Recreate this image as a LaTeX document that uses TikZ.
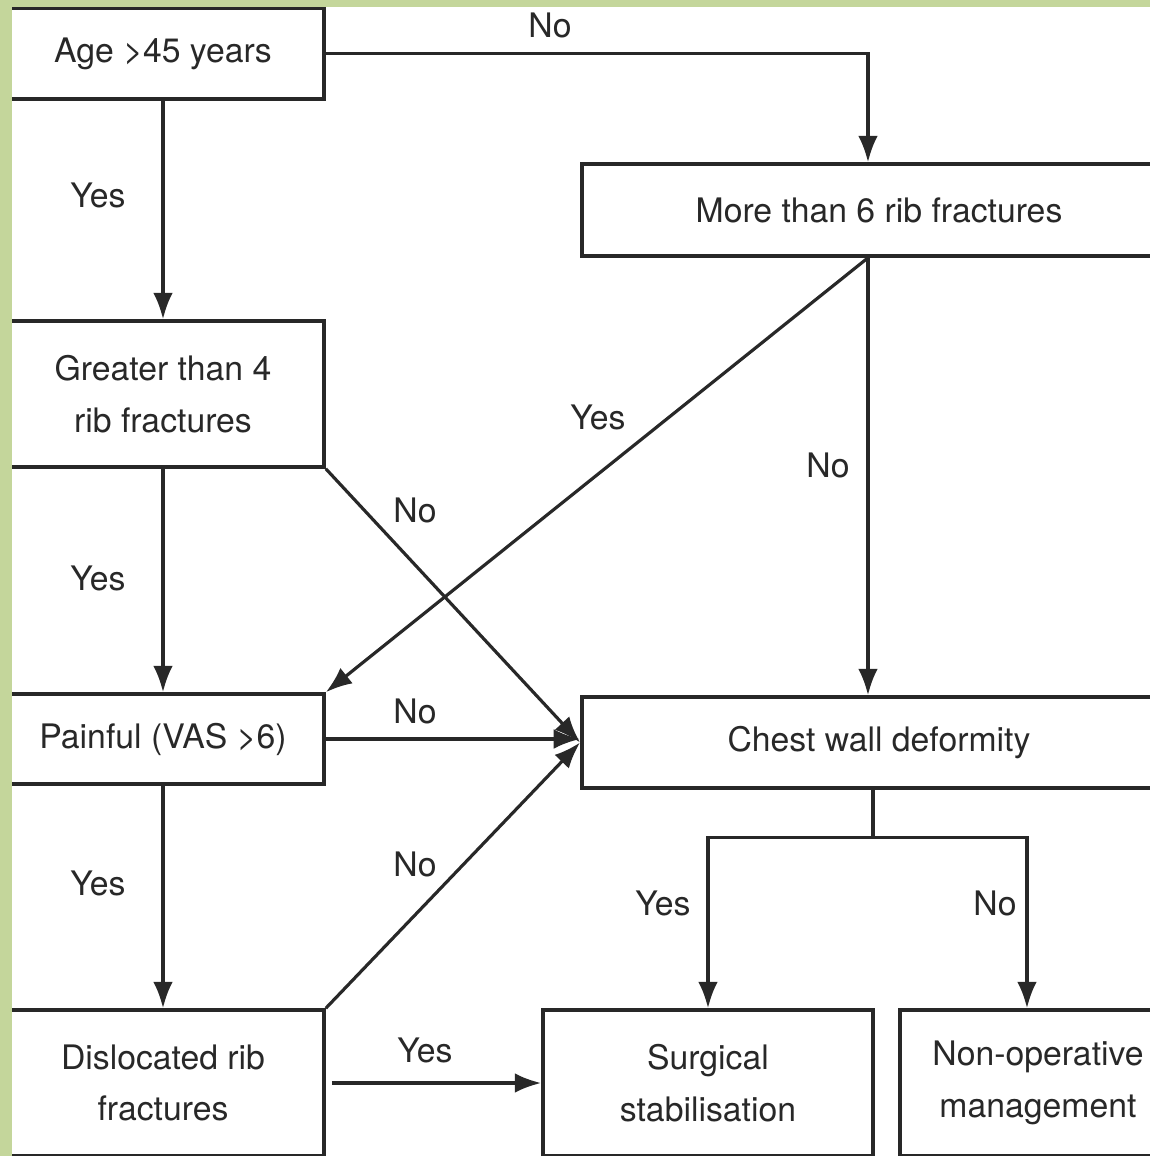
\documentclass[tikz,border=0pt]{standalone}
\usepackage{fontspec}
\setmainfont{TeX Gyre Heros}
\usetikzlibrary{arrows.meta}
\definecolor{framegreen}{RGB}{196,214,155}
\definecolor{inkgray}{RGB}{40,40,40}
\tikzset{
    stepbox/.style={draw=inkgray,line width=1pt,fill=white,inner sep=0pt,align=center,text=inkgray,
        font=\fontsize{9.6}{14.7}\selectfont},
    flow/.style={->,draw=inkgray,line width=0.9pt},
    lab/.style={inner sep=0pt,text=inkgray,font=\fontsize{9.6}{11}\selectfont},
}

\begin{document}
\begin{tikzpicture}[x=0.01cm,y=-0.01cm,>={Latex[length=7.5pt,width=5.6pt]}]
\useasboundingbox (0,0) rectangle (1150,1156);
\clip (0,0) rectangle (1150,1156);
\fill[white] (0,0) rectangle (1150,1156);
% boxes
\node[stepbox,minimum width=3.22cm,minimum height=0.91cm] (age) at (163,53.5) {Age >45 years};
\node[stepbox,minimum width=3.22cm,minimum height=1.46cm] (greater) at (163,394) {Greater than 4\\rib fractures};
\node[stepbox,minimum width=3.22cm,minimum height=0.90cm] (painful) at (163,739) {Painful (VAS >6)};
\node[stepbox,minimum width=3.22cm,minimum height=1.46cm] (dislocated) at (163,1083) {Dislocated rib\\fractures};
\node[stepbox,minimum width=5.94cm,minimum height=0.92cm] (more) at (879,210) {More than 6 rib fractures};
\node[stepbox,minimum width=5.94cm,minimum height=0.91cm] (chest) at (879,742.5) {Chest wall deformity};
\node[stepbox,minimum width=3.30cm,minimum height=1.46cm] (surgical) at (708,1083) {Surgical\\stabilisation};
\node[stepbox,minimum width=2.76cm,minimum height=1.46cm] (nonop) at (1038,1083) {Non-operative\\management};
\coordinate (mtop) at ([xshift=-0.11cm]more.north);
\coordinate (mbot) at ([xshift=-0.11cm]more.south);
\coordinate (cbot) at ([xshift=-0.06cm]chest.south);
\coordinate (fork) at ([yshift=-0.48cm]cbot);
\coordinate (ntop) at ([xshift=-0.11cm]nonop.north);
% connectors
\draw[flow] (age.east) -| (mtop);
\draw[flow] (age) -- (greater);
\draw[flow] (greater) -- (painful);
\draw[flow] (painful) -- (dislocated);
\draw[flow] (greater.south east) -- (chest.west);
\draw[flow] (mbot) -- (painful.north east);
\draw[flow] (mbot) -- (mbot |- chest.north);
\draw[flow] (painful.east) -- (painful.east -| chest.west);
\draw[flow] (dislocated.north east) -- (chest.west);
\draw[flow,shorten <=0.06cm] (dislocated) -- (surgical);
\draw[draw=inkgray,line width=0.9pt] (cbot) -- (fork);
\draw[flow] (fork) -| (surgical.north);
\draw[flow] (fork) -| (ntop);
% labels
\node[lab] (noA) at (550,25) {No};
\node[lab] (yesA) at (98,195) {Yes};
\node[lab] (yesB) at (98,578) {Yes};
\node[lab] (yesC) at (98,883) {Yes};
\node[lab] (noB) at (415,510) {No};
\node[lab] (yesD) at (598,417) {Yes};
\node[lab] (noC) at (828,465) {No};
\node[lab] (noD) at (415,711) {No};
\node[lab] (noE) at (415,864) {No};
\node[lab] (yesE) at (425,1050) {Yes};
\node[lab] (yesF) at (663,903) {Yes};
\node[lab] (noF) at (995,903) {No};
% green frame
\fill[framegreen] (0,0) rectangle (12,1156);
\fill[framegreen] (0,0) rectangle (1150,7);
\end{tikzpicture}
\end{document}
